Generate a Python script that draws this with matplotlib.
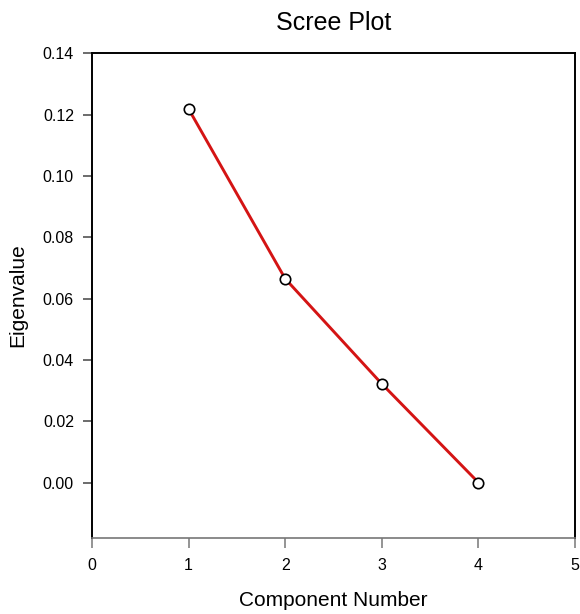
import matplotlib
matplotlib.use("Agg")
import matplotlib.pyplot as plt

# Eigenvalues per principal component
components = [1, 2, 3, 4]
eigenvalues = [0.1219, 0.0665, 0.0322, 0.0]
xticks = [0, 1, 2, 3, 4, 5]
yticks = [0.00, 0.02, 0.04, 0.06, 0.08, 0.10, 0.12, 0.14]

plt.rcParams["font.family"] = ["Liberation Sans", "DejaVu Sans"]

fig = plt.figure(figsize=(5.8, 6.14), dpi=100)
ax = fig.add_axes([0.1586, 0.1243, 0.8328, 0.7886])

ax.plot(components, eigenvalues, color="#d41414", linewidth=2.1, zorder=2)
ax.plot(components, eigenvalues, linestyle="none", marker="o", markersize=7.5,
        markerfacecolor="white", markeredgecolor="black", markeredgewidth=1.2, zorder=3)

ax.set_xlim(0, 5)
ax.set_ylim(-0.018, 0.14)
ax.set_xticks(xticks)
ax.set_yticks(yticks)
ax.set_yticklabels([f"{v:.2f}" for v in yticks])

# axis styling
for side in ["left", "top", "right"]:
    ax.spines[side].set_color("black")
    ax.spines[side].set_linewidth(1.4)
ax.spines["bottom"].set_color("#777777")
ax.spines["bottom"].set_linewidth(1.2)
ax.tick_params(axis="x", direction="out", length=7.5, width=1.1, color="#777777",
               labelsize=11.5, pad=7)
ax.tick_params(axis="y", direction="out", length=6.5, width=1.1, color="#444444",
               labelsize=11.5, pad=6.5)

ax.set_title("Scree Plot", fontsize=18, pad=17)
ax.set_xlabel("Component Number", fontsize=15, labelpad=13)
ax.set_ylabel("Eigenvalue", fontsize=15, labelpad=11)

fig.savefig("out.png", dpi=100)
